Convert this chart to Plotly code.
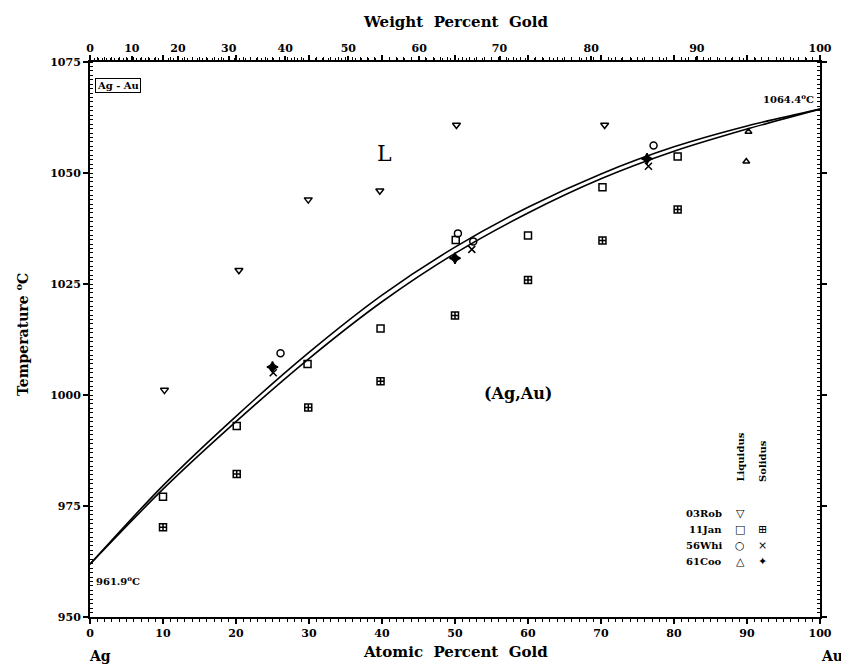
import plotly.graph_objects as go

# ---------------- data ----------------
curve_at = [0, 10, 20, 30, 40, 50, 60, 70, 80, 90, 100]
liquidus_T = [961.9, 979.6, 995.2, 1009.6, 1022.5, 1033.3, 1042.3, 1049.8, 1055.9, 1060.6, 1064.4]
solidus_T = [961.9, 978.8, 994.0, 1008.2, 1021.0, 1031.9, 1041.0, 1048.7, 1054.9, 1059.9, 1064.4]

rob_liq_x = [10.2, 20.4, 29.9, 39.7, 50.2, 70.5]
rob_liq_T = [1001.1, 1028.1, 1044.0, 1046.0, 1060.8, 1060.8]

jan_liq_x = [10.0, 20.1, 29.8, 39.8, 50.1, 60.0, 70.2, 80.5]
jan_liq_T = [977.1, 993.0, 1007.0, 1015.0, 1034.9, 1035.9, 1046.8, 1053.7]
jan_sol_x = [10.0, 20.1, 29.9, 39.8, 50.0, 60.0, 70.2, 80.5]
jan_sol_T = [970.2, 982.2, 997.2, 1003.1, 1017.9, 1025.9, 1034.8, 1041.8]

whi_liq_x = [26.1, 50.4, 52.5, 77.2]
whi_liq_T = [1009.4, 1036.4, 1034.6, 1056.2]
whi_sol_x = [25.1, 52.3, 76.5]
whi_sol_T = [1005.0, 1032.8, 1051.5]

coo_liq_x = [90.2, 89.9]
coo_liq_T = [1059.3, 1052.6]
coo_sol_x = [25.0, 50.0, 76.3]
coo_sol_T = [1006.3, 1030.8, 1053.2]

y_ticks = [950, 975, 1000, 1025, 1050, 1075]
x_ticks = [0, 10, 20, 30, 40, 50, 60, 70, 80, 90, 100]
wt_ticks = [0, 10, 20, 30, 40, 50, 60, 70, 80, 90, 100]

M_AU, M_AG = 196.967, 107.868


def wt_to_at(w):
    if w >= 100:
        return 100.0
    a = w / M_AU
    b = (100 - w) / M_AG
    return 100 * a / (a + b)


# ---------------- layout geometry ----------------
# page body adds an 8px offset; plot area on screen spans x 90..820, y 62..617
W, H = 849, 665
OFF = 8
X0, X1, Y0, Y1 = 90, 820, 62, 617
L, T = X0 - OFF, Y0 - OFF
R = W - L - (X1 - X0)
B = H - T - (Y1 - Y0)
PW, PH = X1 - X0, Y1 - Y0


def px(x):
    return (x - X0) / PW


def py(y):
    return (Y1 - y) / PH


FONT = "DejaVu Serif"
fig = go.Figure()

line_style = dict(color="black", width=1.6, shape="spline", smoothing=0.8)
fig.add_trace(go.Scatter(x=curve_at, y=liquidus_T, mode="lines", line=line_style, hoverinfo="skip"))
fig.add_trace(go.Scatter(x=curve_at, y=solidus_T, mode="lines", line=line_style, hoverinfo="skip"))

mk = dict(color="black", size=7, line=dict(color="black", width=1.5))
fig.add_trace(go.Scatter(x=rob_liq_x, y=rob_liq_T, mode="markers",
                         marker=dict(mk, symbol="triangle-down-open")))
fig.add_trace(go.Scatter(x=jan_liq_x, y=jan_liq_T, mode="markers",
                         marker=dict(mk, symbol="square-open")))
fig.add_trace(go.Scatter(x=jan_sol_x, y=jan_sol_T, mode="markers",
                         marker=dict(mk, symbol="square-cross-open")))
fig.add_trace(go.Scatter(x=whi_liq_x, y=whi_liq_T, mode="markers",
                         marker=dict(mk, symbol="circle-open")))
fig.add_trace(go.Scatter(x=whi_sol_x, y=whi_sol_T, mode="markers",
                         marker=dict(mk, symbol="x-thin-open")))
fig.add_trace(go.Scatter(x=coo_liq_x, y=coo_liq_T, mode="markers",
                         marker=dict(mk, symbol="triangle-up-open", size=6)))
fig.add_trace(go.Scatter(x=coo_sol_x, y=coo_sol_T, mode="markers",
                         marker=dict(mk, symbol="star-diamond", size=8)))

# invisible trace for top axis
fig.add_trace(go.Scatter(x=[0, 100], y=[950, 950], xaxis="x2", mode="markers",
                         marker=dict(opacity=0), hoverinfo="skip"))

tickfont = dict(family=FONT, size=11, color="black", weight="bold")

wt_minor = [wt_to_at(w) for w in range(0, 101)]

fig.update_layout(
    width=W, height=H,
    margin=dict(l=L, r=R, t=T, b=B, autoexpand=False),
    paper_bgcolor="white", plot_bgcolor="white",
    showlegend=False,
    xaxis=dict(range=[0, 100], tickvals=x_ticks, ticktext=[str(v) for v in x_ticks],
               ticks="outside", ticklen=5, tickwidth=1.5, tickcolor="black",
               minor=dict(dtick=1, tick0=0, ticks="outside", ticklen=3, tickwidth=1, tickcolor="black"),
               showline=True, linecolor="black", linewidth=2, mirror="ticks",
               showgrid=False, zeroline=False, tickfont=tickfont),
    xaxis2=dict(range=[0, 100], overlaying="x", side="top",
                tickmode="array", tickvals=[wt_to_at(w) for w in wt_ticks],
                ticktext=[str(w) for w in wt_ticks],
                ticks="outside", ticklen=5, tickwidth=1.5, tickcolor="black",
                minor=dict(tickmode="array", tickvals=wt_minor, ticks="outside", ticklen=3,
                           tickwidth=1, tickcolor="black"),
                showgrid=False, zeroline=False, tickfont=tickfont),
    yaxis=dict(range=[950, 1075], tickvals=y_ticks, ticktext=[str(v) for v in y_ticks],
               ticks="outside", ticklen=5, tickwidth=1.5, tickcolor="black",
               minor=dict(dtick=1, tick0=950, ticks="inside", ticklen=3, tickwidth=1, tickcolor="black"),
               showline=True, linecolor="black", linewidth=2, mirror="ticks",
               showgrid=False, zeroline=False, tickfont=tickfont),
)

ann = []


def A(text, x, y, xref="paper", yref="paper", size=12, **kw):
    d = dict(text=text, x=x, y=y, xref=xref, yref=yref, showarrow=False,
             xanchor="center", yanchor="middle",
             font=dict(family=FONT, size=size, color="black"))
    d.update(kw)
    ann.append(d)


A("<b>Weight  Percent  Gold</b>", px(455), py(22), size=15)
A("<b>Atomic  Percent  Gold</b>", px(455), py(652), size=15)
A("<b>Temperature <sup>o</sup>C</b>", px(22), py(335), size=14, textangle=-90)
A("<b>Ag</b>", px(100), py(656), size=14)
A("<b>Au</b>", px(832), py(656), size=14)
A("L", 40.3, 1054.5, xref="x", yref="y", size=22)
A("<b>(Ag,Au)</b>", 58.6, 1000.3, xref="x", yref="y", size=16)
A("<b>1064.4<sup>o</sup>C</b>", 99.4, 1064.9, xref="x", yref="y", size=10,
  xanchor="right", yanchor="bottom")
A("<b>961.9<sup>o</sup>C</b>", 0.5, 958.2, xref="x", yref="y", size=10, xanchor="left")
A("<b>Ag - Au</b>", px(95), py(85), size=10, xanchor="left",
  bordercolor="black", borderwidth=1, borderpad=1)

# legend block
A("<b>Liquidus</b>", px(740), py(484), size=10, textangle=-90, yanchor="bottom")
A("<b>Solidus</b>", px(762), py(484), size=10, textangle=-90, yanchor="bottom")
rows = [("03Rob", "▽", ""), ("11Jan", "□", "⊞"), ("56Whi", "○", "×"), ("61Coo", "△", "✦")]
row_y = [513, 529, 545, 561]
for (lab, s1, s2), yy in zip(rows, row_y):
    A("<b>" + lab + "</b>", px(724), py(yy), size=10, xanchor="right")
    A(s1, px(740), py(yy), size=11)
    if s2:
        A(s2, px(762), py(yy), size=11)

fig.update_layout(annotations=ann)
fig.write_html("out.html")
